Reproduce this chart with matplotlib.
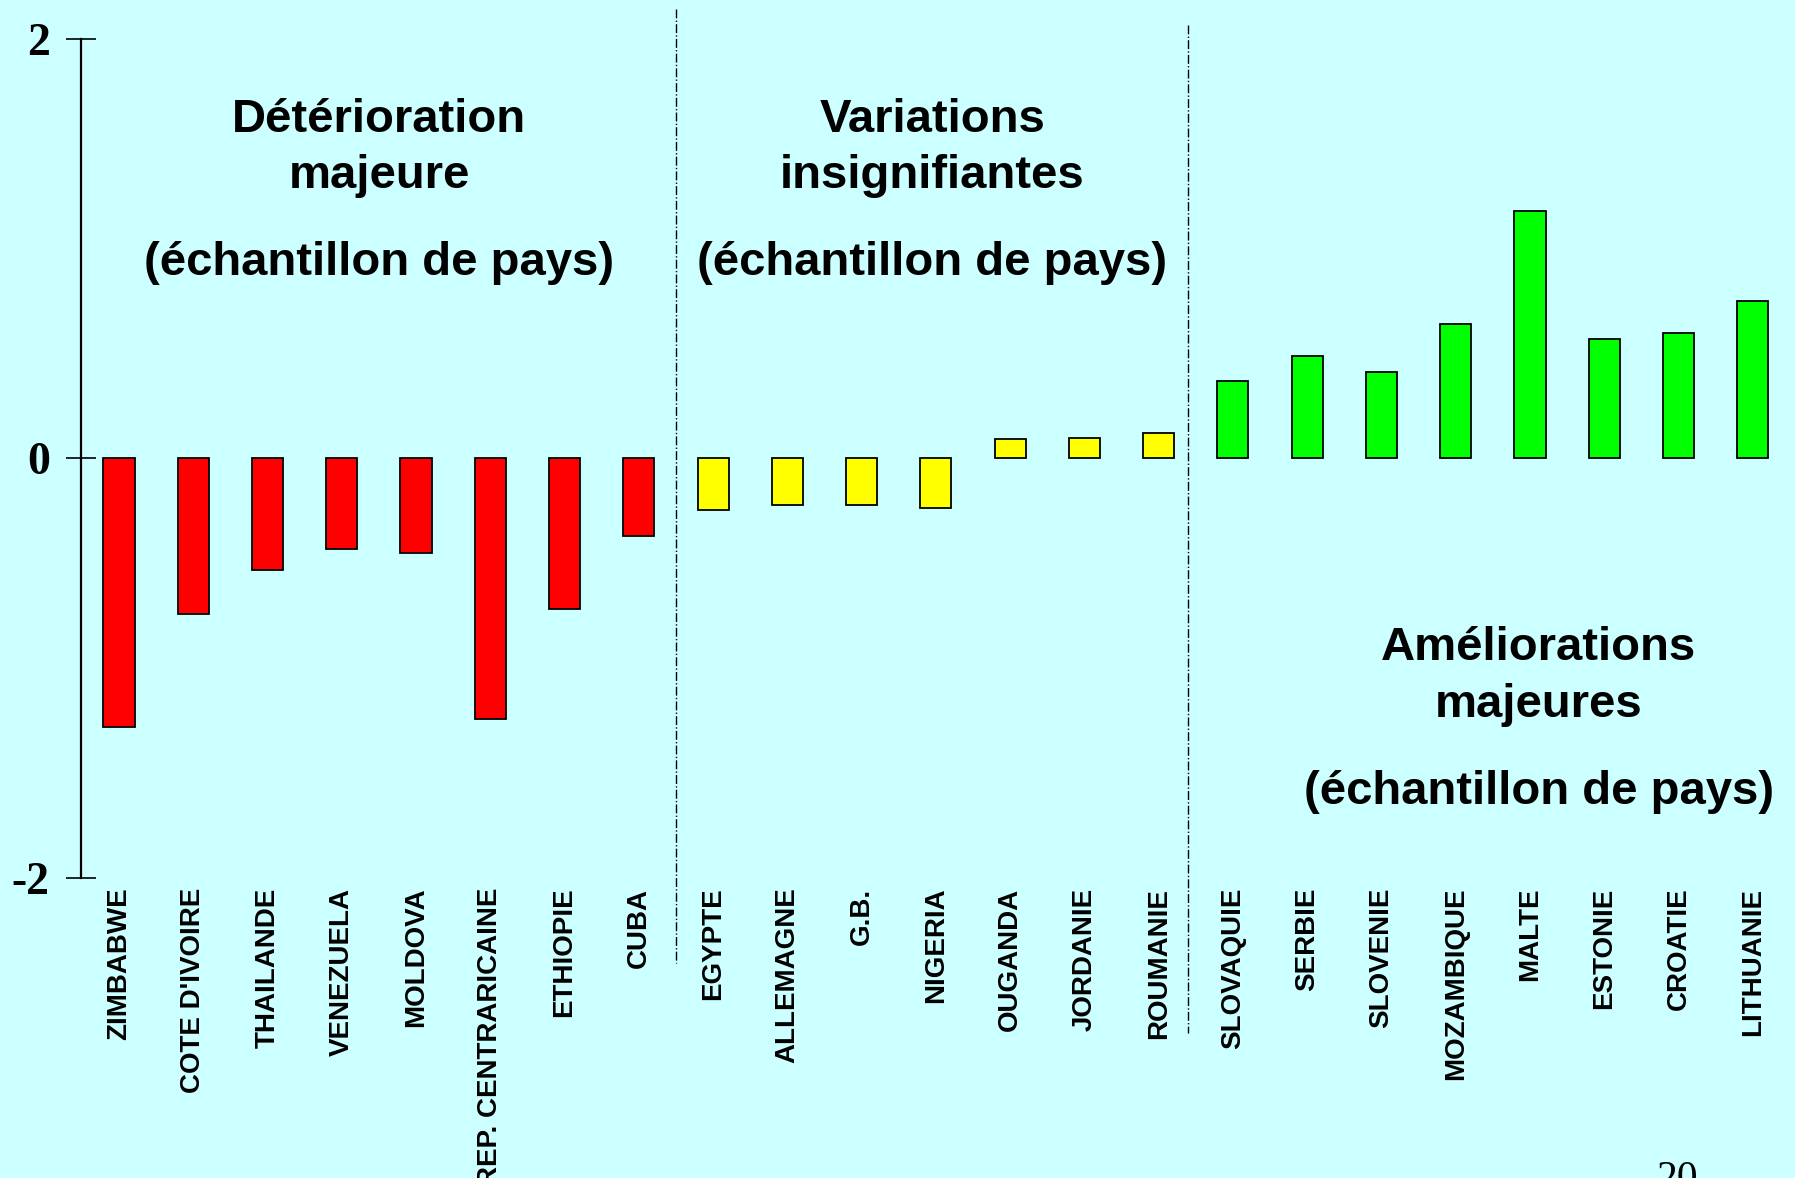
import matplotlib.pyplot as plt

# Données
pays = ["ZIMBABWE", "COTE D'IVOIRE", "THAILANDE", "VENEZUELA", "MOLDOVA",
        "REP. CENTRARICAINE", "ETHIOPIE", "CUBA",
        "EGYPTE", "ALLEMAGNE", "G.B.", "NIGERIA", "OUGANDA", "JORDANIE", "ROUMANIE",
        "SLOVAQUIE", "SERBIE", "SLOVENIE", "MOZAMBIQUE", "MALTE", "ESTONIE",
        "CROATIE", "LITHUANIE"]
variations = [-1.28, -0.74, -0.53, -0.43, -0.45, -1.24, -0.72, -0.37,
              -0.245, -0.22, -0.22, -0.235, 0.093, 0.10, 0.12,
              0.37, 0.49, 0.41, 0.64, 1.18, 0.57, 0.60, 0.75]
groupes = [8, 7, 8]
couleurs_groupes = ["#FF0000", "#FFFF00", "#00FF00"]
titres = ["Détérioration\nmajeure", "Variations\ninsignifiantes", "Améliorations\nmajeures"]
yticks = [-2, 0, 2]
ytick_labels = ["-2", "0", "2"]

bg = "#CCFFFF"
couleurs = []
for n, c in zip(groupes, couleurs_groupes):
    couleurs += [c] * n

fig = plt.figure(figsize=(17.95, 11.78), dpi=100, facecolor=bg)
ax = fig.add_axes([0.0451, 0.2547, 1 - 0.0451, 0.9669 - 0.2547])
ax.set_facecolor(bg)

x = list(range(len(pays)))
ax.bar(x, variations, width=0.42, color=couleurs, edgecolor="black", linewidth=1.3)

ax.set_xlim(-0.513, 22.57)
ax.set_ylim(-2, 2)

for s in ["top", "right", "bottom"]:
    ax.spines[s].set_visible(False)
ax.spines["left"].set_linewidth(1.6)

ax.set_yticks(yticks)
ax.set_yticklabels(ytick_labels, family="Liberation Serif", fontweight="bold", fontsize=33)
ax.tick_params(axis="y", direction="inout", length=21, width=1.2, pad=12)

ax.set_xticks(x)
ax.set_xticklabels(pays, rotation=90, va="top", ha="center", fontsize=20,
                   fontweight="bold", family="Liberation Sans")
ax.tick_params(axis="x", length=0, pad=7)

# séparateurs des groupes
ax.plot([7.5, 7.5], [2.143, -2.405], color="black", linestyle="-.", linewidth=1, clip_on=False)
ax.plot([14.4, 14.4], [2.067, -2.739], color="black", linestyle="-.", linewidth=1, clip_on=False)

# textes des groupes
kw = dict(ha="center", va="center", fontsize=34, fontweight="bold", family="Liberation Sans")
ax.text(3.5, 1.48, titres[0], linespacing=1.36, **kw)
ax.text(3.5, 0.93, "(échantillon de pays)", **kw)
ax.text(10.95, 1.48, titres[1], linespacing=1.36, **kw)
ax.text(10.95, 0.93, "(échantillon de pays)", **kw)
ax.text(19.12, -1.04, titres[2], linespacing=1.36, **kw)
ax.text(19.12, -1.59, "(échantillon de pays)", **kw)

# numéro de page (coupé par le bas de l'image)
fig.text(1677 / 1795, 1 - 1160 / 1178, "20", ha="center", va="top",
         fontsize=30, family="Liberation Serif")

fig.savefig("out.png", dpi=100, facecolor=bg)
